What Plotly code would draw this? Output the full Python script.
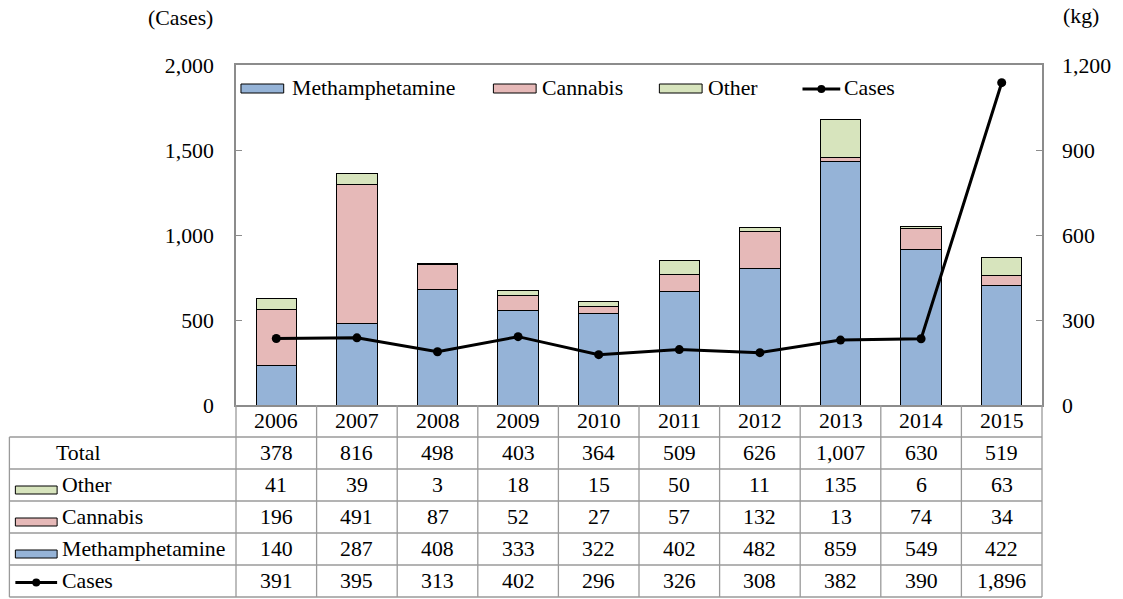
import plotly.graph_objects as go

years = ["2006", "2007", "2008", "2009", "2010", "2011", "2012", "2013", "2014", "2015"]
meth = [140, 287, 408, 333, 322, 402, 482, 859, 549, 422]
cannabis = [196, 491, 87, 52, 27, 57, 132, 13, 74, 34]
other = [41, 39, 3, 18, 15, 50, 11, 135, 6, 63]
total = [378, 816, 498, 403, 364, 509, 626, 1007, 630, 519]
cases = [391, 395, 313, 402, 296, 326, 308, 382, 390, 1896]

C_METH = "#95B3D7"
C_CANN = "#E6B9B8"
C_OTH = "#D7E4BD"
GRID = "#9a9a9a"
FONT = "Times New Roman, Liberation Serif, DejaVu Serif, serif"
FS = 21.8

L, R, T, B = 236, 1047, 65, 405  # page pixel coordinates of plot area
W, H = 1123, 599


def px(x):
    return (x - L) / (R - L)


def py(y):
    return (B - y) / (B - T)


fig = go.Figure()
fig.add_trace(go.Bar(x=years, y=meth, name="Methamphetamine", marker=dict(color=C_METH, line=dict(color="black", width=1)), width=0.5, yaxis="y"))
fig.add_trace(go.Bar(x=years, y=cannabis, name="Cannabis", marker=dict(color=C_CANN, line=dict(color="black", width=1)), width=0.5, yaxis="y"))
fig.add_trace(go.Bar(x=years, y=other, name="Other", marker=dict(color=C_OTH, line=dict(color="black", width=1)), width=0.5, yaxis="y"))
fig.add_trace(go.Scatter(x=years, y=cases, name="Cases", mode="lines+markers", line=dict(color="black", width=3), marker=dict(color="black", size=9), yaxis="y2"))

shapes = []
annotations = []


def txt(x, y, s, anchor="center", xref="paper"):
    annotations.append(dict(x=x, xref=xref, y=py(y), yref="paper", text=s, showarrow=False, xanchor=anchor, yanchor="middle", font=dict(family=FONT, size=FS, color="black")))


# table lines
row_edges = [437, 469, 501, 533, 565, 597]
for y in row_edges:
    shapes.append(dict(type="line", xref="paper", yref="paper", x0=px(8), x1=1, y0=py(y), y1=py(y), line=dict(color=GRID, width=1.3)))
for k in range(11):
    shapes.append(dict(type="line", xref="paper", yref="paper", x0=k / 10, x1=k / 10, y0=py(B), y1=py(597), line=dict(color=GRID, width=1.3)))
shapes.append(dict(type="line", xref="paper", yref="paper", x0=px(8), x1=px(8), y0=py(437), y1=py(597), line=dict(color=GRID, width=1.3)))

# year row
for i, yr in enumerate(years):
    txt(i, 421, yr, xref="x")

rows = [("Total", total, None), ("Other", other, C_OTH), ("Cannabis", cannabis, C_CANN), ("Methamphetamine", meth, C_METH), ("Cases", cases, "line")]
for r, (label, vals, sym) in enumerate(rows):
    cy = 437 + 32 * r + 16
    for i, v in enumerate(vals):
        txt(i, cy, f"{v:,}", xref="x")
    if sym is None:
        txt(px(53), cy, label, anchor="left")
    else:
        txt(px(59), cy, label, anchor="left")
        if sym == "line":
            shapes.append(dict(type="line", xref="paper", yref="paper", x0=px(14), x1=px(56), y0=py(cy + 1.5), y1=py(cy + 1.5), line=dict(color="black", width=3)))
            shapes.append(dict(type="circle", xref="paper", yref="paper", x0=px(31), x1=px(39), y0=py(cy - 2.5), y1=py(cy + 5.5), fillcolor="black", line=dict(color="black", width=0)))
        else:
            shapes.append(dict(type="rect", xref="paper", yref="paper", x0=px(14), x1=px(56), y0=py(cy + 1), y1=py(cy + 9), fillcolor=sym, line=dict(color="black", width=1)))

# in-plot legend
leg_y = 88
leg = [(241, 284, 290, "Methamphetamine", C_METH), (495, 538, 542, "Cannabis", C_CANN), (662, 705, 709, "Other", C_OTH), (806, 844, 846, "Cases", "line")]
for x0, x1, tx, label, sym in leg:
    if sym == "line":
        shapes.append(dict(type="line", xref="paper", yref="paper", x0=px(x0), x1=px(x1), y0=py(leg_y + 1), y1=py(leg_y + 1), line=dict(color="black", width=3)))
        cx = (x0 + x1) / 2
        shapes.append(dict(type="circle", xref="paper", yref="paper", x0=px(cx - 4), x1=px(cx + 4), y0=py(leg_y - 3), y1=py(leg_y + 5), fillcolor="black", line=dict(color="black", width=0)))
    else:
        shapes.append(dict(type="rect", xref="paper", yref="paper", x0=px(x0), x1=px(x1), y0=py(leg_y - 4), y1=py(leg_y + 5), fillcolor=sym, line=dict(color="black", width=1)))
    txt(px(tx), leg_y, label, anchor="left")

# axis unit labels
txt(px(215), 18, "(Cases)", anchor="right")
txt(px(1066), 16, "(kg)", anchor="left")

fig.update_layout(
    width=W, height=H,
    margin=dict(l=L, r=W - R, t=T, b=H - B, pad=0),
    barmode="stack",
    showlegend=False,
    plot_bgcolor="white", paper_bgcolor="white",
    font=dict(family=FONT, size=FS, color="black"),
    xaxis=dict(type="category", range=[-0.5, 9.5], showticklabels=False, ticks="", showline=True, mirror=True, linecolor="#8c8c8c", linewidth=1.5, showgrid=False, zeroline=False),
    yaxis=dict(side="right", range=[0, 1200], dtick=300, tickformat=",", showgrid=False, zeroline=False, showline=True, linecolor="#8c8c8c", linewidth=1.5, ticks="inside", ticklen=6, tickcolor="#8c8c8c", ticklabelstandoff=14, tickfont=dict(family=FONT, size=FS, color="black")),
    yaxis2=dict(side="left", overlaying="y", range=[0, 2000], dtick=500, tickformat=",", showgrid=False, zeroline=False, showline=True, linecolor="#8c8c8c", linewidth=1.5, ticks="inside", ticklen=6, tickcolor="#8c8c8c", ticklabelstandoff=16, tickfont=dict(family=FONT, size=FS, color="black")),
    shapes=shapes,
    annotations=annotations,
)

fig.write_html("out.html", config={"displayModeBar": False}, post_script="document.body.style.margin='0px';")
